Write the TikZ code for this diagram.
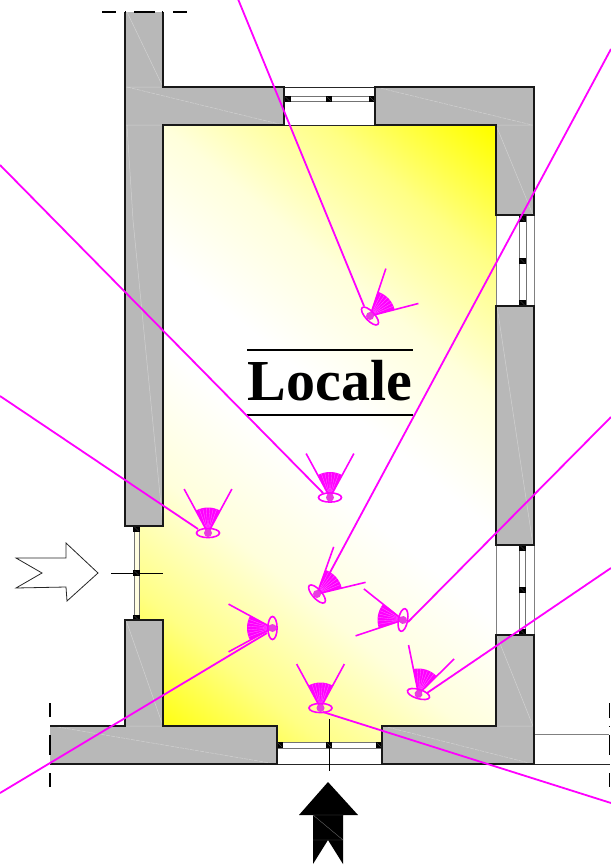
\documentclass[tikz,border=0pt]{standalone}
\usepackage{fontspec}
\setmainfont{Liberation Serif}
\definecolor{ylwA}{rgb}{1,1,0.86}
\definecolor{ylwB}{rgb}{1,1,0.52}
\pgfdeclarehorizontalshading{roomshade}{100bp}{color(0bp)=(yellow); color(28.75bp)=(yellow); color(35.1bp)=(ylwB); color(41.5bp)=(ylwA); color(47.9bp)=(white); color(52.1bp)=(white); color(58.5bp)=(ylwA); color(64.9bp)=(ylwB); color(71.25bp)=(yellow); color(100bp)=(yellow)}
\definecolor{wallgrey}{HTML}{B8B8B8}
\definecolor{eyepink}{HTML}{FF00FF}
\definecolor{pupil}{HTML}{E83CE0}
\definecolor{fanline}{HTML}{FF70FF}
\tikzset{
  wallfill/.style={fill=wallgrey,draw=none},
  wallline/.style={draw=black!90,line width=1.8bp,line join=miter},
  mitre/.style={draw=white!82!black,line width=.5bp},
  mitredash/.style={mitre,dash pattern=on 4bp off 1bp},
  sillline/.style={draw=black!85,line width=.8bp},
  jambline/.style={draw=black!50,line width=.9bp},
  glass/.style={fill=white,draw=black!55,line width=.9bp},
  cutline/.style={draw=black,line width=1.3bp},
  crossbar/.style={draw=black,line width=1bp},
  sight/.style={draw=eyepink,line width=1.8bp},
  eyestroke/.style={draw=eyepink,line width=1.6bp},
  titlerule/.style={draw=black,line width=1.2bp}
}
\newcommand{\blk}[2]{%
  \fill[black] (#1-3.3,#2-3.3) rectangle (#1+3.3,#2+3.3);
  \draw[black!55,line width=.25bp] (#1-2,#2-2) -- (#1+2,#2+2);}
\newcommand{\eyemark}[3]{%
  \begin{scope}[shift={(#1,#2)},rotate=-#3]
    \fill[eyepink] (0bp,0bp) -- (62:25.5bp) arc[start angle=62,end angle=118,radius=25.5bp] -- cycle;
    \foreach \a in {70,78,86,94,102,110}{\draw[fanline,line width=.3bp] (0bp,0bp) -- (\a:25bp);}
    \draw[eyestroke] (0bp,0bp) -- (61.5:50bp);
    \draw[eyestroke] (0bp,0bp) -- (118.5:50bp);
    \fill[pupil] (0bp,0bp) circle[radius=4bp];
    \draw[eyestroke] (0bp,0bp) ellipse[x radius=11.5bp,y radius=4.6bp];
  \end{scope}}
\begin{document}
\begin{tikzpicture}[x=1bp,y=-1bp]
\useasboundingbox (0,0) rectangle (611,868);
% room floor
\begin{scope}
  \clip (163,125) -- (496,125) -- (496,726) -- (382,726) -- (382,742) -- (277,742) -- (277,726) -- (163,726) -- (163,620) -- (136,620) -- (136,526) -- (163,526) -- cycle;
  \begin{scope}[transform canvas={shift={(330,440)},rotate=50.5}]
    \shade[shading=roomshade] (-400bp,-520bp) rectangle (400bp,520bp);
  \end{scope}
\end{scope}
% wall fills
\path[wallfill] (125,12) -- (125,526) -- (163,526) -- (163,125) -- (284,125) -- (284,87) -- (163,87) -- (163,12) -- cycle;
\path[wallfill] (375,87) -- (534,87) -- (534,215) -- (496,215) -- (496,125) -- (375,125) -- cycle;
\path[wallfill] (496,306) rectangle (534,545);
\path[wallfill] (496,635) -- (534,635) -- (534,764) -- (382,764) -- (382,726) -- (496,726) -- cycle;
\path[wallfill] (125,620) -- (163,620) -- (163,726) -- (277,726) -- (277,764) -- (50,764) -- (50,726) -- (125,726) -- cycle;
% faint construction lines in the walls
\draw[mitre] (126,87) -- (163,87) (126,125) -- (163,125) (127,12) -- (163,87) (127,125) -- (133,220) -- (163,526);
\draw[mitredash] (127,87) -- (283,125);
\draw[mitredash] (376,87) -- (532,125);
\draw[mitre] (496,125) -- (533,125) (496,125) -- (533,215) (497,306) -- (533,545);
\draw[mitre] (126,620) -- (163,726) (126,726) -- (163,726);
\draw[mitredash] (52,726) -- (276,764);
\draw[mitredash] (383,726) -- (533,764);
\draw[mitre] (497,636) -- (533,726) (496,726) -- (533,726);
% window jambs and sills
\draw[sillline] (284,87) -- (375,87);
\draw[sillline] (284,125) -- (375,125);
\draw[jambline] (534,215) -- (534,306);
\draw[jambline] (496,215) -- (496,306);
\draw[jambline] (534,545) -- (534,635);
\draw[jambline] (496,545) -- (496,635);
\draw[sillline] (277,764) -- (610,764);
\draw[jambline] (534,734) -- (609,734);
% glazing
\path[glass] (284,96) rectangle (375,101);
\path[glass] (519,215) rectangle (526,306);
\path[glass] (519.5,545) rectangle (525.5,635);
\path[glass,fill=yellow!12] (134,526) rectangle (139.5,620);
\path[glass] (277,742) rectangle (382,748);
\draw[crossbar] (111,573) -- (163,573);
\draw[crossbar] (329,719) -- (329,771);
\blk{287.5}{99}\blk{329}{99}\blk{372}{99}
\blk{522.5}{219}\blk{522.5}{261}\blk{522.5}{303}
\blk{522.5}{548}\blk{522.5}{590}\blk{522.5}{632}
\blk{136.5}{529}\blk{136.5}{573}\blk{136.5}{618}
\blk{280}{745}\blk{329}{745}\blk{379}{745}
% wall outlines
\draw[wallline] (125,12) -- (125,526) -- (163,526) -- (163,125) -- (284,125) -- (284,87) -- (163,87) -- (163,12);
\draw[wallline] (375,87) -- (534,87) -- (534,215) -- (496,215) -- (496,125) -- (375,125) -- cycle;
\draw[wallline] (496,306) rectangle (534,545);
\draw[wallline] (496,635) -- (534,635) -- (534,764) -- (382,764) -- (382,726) -- (496,726) -- cycle;
\draw[wallline] (50,726) -- (125,726) -- (125,620) -- (163,620) -- (163,726) -- (277,726) -- (277,764) -- (50,764);
% cut marks
\draw[cutline] (102,12) -- (116,12) (125,12) -- (126,12) (134,12) -- (155,12) (162,12) -- (163,12) (173,12) -- (187,12);
\draw[cutline] (50,703) -- (50,717) (50,735) -- (50,755) (50,773) -- (50,787);
\draw[cutline] (609.5,703) -- (609.5,718) (609.5,726) -- (609.5,727) (609.5,735) -- (609.5,755) (609.5,773) -- (609.5,787);
% title
\node[inner sep=0pt,anchor=base,font=\fontsize{58bp}{58bp}\selectfont\bfseries] (title) at (330,400) {Locale};
\draw[titlerule] (247,350) -- (413,350);
\draw[titlerule] (247,415) -- (413,415);
% entry arrows
\draw[fill=white,draw=black!85,line width=.8bp,line join=miter] (16,558) -- (42,573) -- (16,588) -- (66,587) -- (67,601) -- (98,573) -- (66,543) -- (66,558) -- cycle;
\fill[black] (328,782) -- (358,815) -- (343,815) -- (343,864) -- (328,840) -- (313,864) -- (313,815) -- (299,815) -- cycle;
\draw[black!60,line width=.4bp] (313,815) -- (343,815) (313,815) -- (343,840) (313,840) -- (343,840);
% viewpoints
\eyemark{370}{316}{47}
\eyemark{330}{497.5}{0}
\eyemark{208}{533}{0}
\eyemark{272.5}{628}{-90}
\eyemark{317}{594}{48}
\eyemark{403}{620}{-80}
\eyemark{418.5}{694}{17}
\eyemark{320.5}{708}{0}
% lines of sight
\coordinate (sA) at (238,-1);  \coordinate (tA) at (364,306);
\coordinate (sB) at (0,165);   \coordinate (tB) at (323,493);
\coordinate (sC) at (0,396);   \coordinate (tC) at (198,529);
\coordinate (sD) at (0,793);   \coordinate (tD) at (267,633);
\coordinate (sE) at (611,49);  \coordinate (tE) at (327,578);
\coordinate (sF) at (611,417); \coordinate (tF) at (408,622);
\coordinate (sG) at (611,568); \coordinate (tG) at (427,693);
\coordinate (sH) at (611,803); \coordinate (tH) at (323,712);
\foreach \k in {A,B,C,D,E,F,G,H}{\draw[sight] (s\k) -- (t\k);}
\end{tikzpicture}
\end{document}
